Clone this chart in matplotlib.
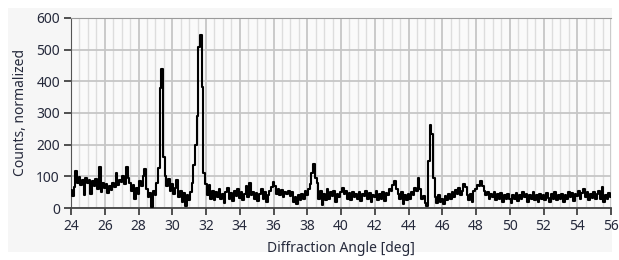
import numpy as np
import matplotlib.pyplot as plt
from matplotlib.ticker import MultipleLocator
from matplotlib.patches import Rectangle

# угол 2theta, шаг 0.1 градуса
angle_start = 24.0
angle_step = 0.1

# нормированные отсчёты (по 10 точек на градус)
counts_24 = [58, 38, 65, 118, 80, 98, 72, 90, 42, 95]
counts_25 = [78, 88, 45, 85, 68, 92, 60, 128, 50, 78]
counts_26 = [62, 75, 48, 70, 58, 80, 66, 112, 72, 88]
counts_27 = [82, 100, 75, 130, 95, 80, 55, 72, 30, 62]
counts_28 = [45, 85, 70, 102, 122, 60, 35, 48, 2, 55]
counts_29 = [40, 78, 125, 380, 440, 160, 100, 70, 92, 55]
counts_30 = [75, 45, 62, 90, 35, 55, 20, 48, 5, 40]
counts_31 = [25, 50, 80, 135, 200, 290, 507, 547, 382, 110]
counts_32 = [75, 40, 72, 30, 55, 25, 50, 35, 60, 28]
counts_33 = [45, 15, 50, 62, 30, 48, 22, 55, 38, 60]
counts_34 = [32, 50, 25, 45, 70, 35, 78, 40, 52, 30]
counts_35 = [48, 22, 45, 60, 30, 50, 18, 42, 55, 65]
counts_36 = [82, 70, 45, 60, 40, 58, 35, 52, 45, 55]
counts_37 = [38, 50, 20, 35, 12, 40, 25, 45, 30, 55]
counts_38 = [42, 60, 75, 110, 140, 95, 80, 30, 55, 10]
counts_39 = [45, 25, 60, 30, 52, 38, 55, 20, 45, 35]
counts_40 = [50, 62, 45, 55, 30, 48, 25, 52, 35, 45]
counts_41 = [30, 50, 22, 45, 38, 55, 28, 48, 20, 42]
counts_42 = [35, 55, 25, 45, 30, 52, 22, 48, 40, 60]
counts_43 = [55, 72, 85, 60, 45, 30, 50, 12, 40, 25]
counts_44 = [45, 30, 52, 40, 62, 55, 95, 60, 30, 38]
counts_45 = [15, 5, 150, 262, 235, 95, 35, 15, 40, 20]
counts_46 = [30, 12, 38, 25, 45, 30, 50, 35, 58, 45]
counts_47 = [62, 40, 55, 75, 65, 40, 25, 45, 20, 55]
counts_48 = [60, 72, 68, 85, 70, 55, 40, 50, 30, 45]
counts_49 = [35, 52, 25, 45, 30, 48, 20, 40, 28, 45]
counts_50 = [30, 15, 42, 28, 48, 22, 40, 30, 50, 35]
counts_51 = [45, 20, 40, 30, 52, 25, 42, 18, 45, 30]
counts_52 = [40, 25, 48, 32, 20, 45, 30, 50, 25, 40]
counts_53 = [28, 45, 20, 42, 30, 50, 35, 48, 22, 45]
counts_54 = [38, 55, 30, 48, 60, 35, 50, 25, 45, 32]
counts_55 = [52, 28, 45, 55, 30, 65, 20, 42, 30, 48]
counts_56 = [35]

counts = (counts_24 + counts_25 + counts_26 + counts_27 + counts_28 + counts_29 +
          counts_30 + counts_31 + counts_32 + counts_33 + counts_34 + counts_35 +
          counts_36 + counts_37 + counts_38 + counts_39 + counts_40 + counts_41 +
          counts_42 + counts_43 + counts_44 + counts_45 + counts_46 + counts_47 +
          counts_48 + counts_49 + counts_50 + counts_51 + counts_52 + counts_53 +
          counts_54 + counts_55 + counts_56)
counts = np.array(counts, dtype=float)
angles = angle_start + angle_step * np.arange(len(counts))

x_ticks = [24, 26, 28, 30, 32, 34, 36, 38, 40, 42, 44, 46, 48, 50, 52, 54, 56]
y_ticks = [0, 100, 200, 300, 400, 500, 600]

text_color = '#262a3c'
plt.rcParams['font.family'] = ['Noto Sans', 'DejaVu Sans']

fig = plt.figure(figsize=(6.19, 2.60), dpi=100, facecolor='white')
# серая подложка как у панели LabVIEW
fig.patches.append(Rectangle((8 / 619, 8 / 260), 604 / 619, 244 / 260,
                             transform=fig.transFigure, facecolor='#f6f6f6',
                             edgecolor='none', zorder=-10))
ax = fig.add_axes([71 / 619, 52 / 260, 540 / 619, 190 / 260])
ax.set_facecolor('#fafafa')

# ступеньками, как рисует прибор
ax.plot(angles, counts, color='black', linewidth=1.5, drawstyle='steps-mid', zorder=3)

ax.set_xlim(24, 56)
ax.set_ylim(0, 600)
ax.set_xticks(x_ticks)
ax.set_yticks(y_ticks)
ax.xaxis.set_minor_locator(MultipleLocator(0.5))

ax.grid(which='major', color='#c6c6c6', linewidth=1.3, zorder=0)
ax.grid(which='minor', axis='x', color='#dddddd', linewidth=1.0, zorder=0)
ax.set_axisbelow(True)

ax.spines['right'].set_visible(False)
ax.spines['top'].set_color('#9a9a9a')
ax.spines['left'].set_color('#555555')
ax.spines['bottom'].set_color('#444444')
ax.spines['bottom'].set_linewidth(1.3)

ax.tick_params(which='major', direction='out', length=5, width=1.2,
               color='#333333', labelsize=10, labelcolor=text_color, pad=3)
ax.tick_params(which='minor', length=0)

ax.set_xlabel('Diffraction Angle [deg]', fontsize=10, color=text_color, labelpad=5)
ax.set_ylabel('Counts, normalized', fontsize=10, color=text_color, labelpad=6)

fig.savefig('out.png', dpi=100, facecolor=fig.get_facecolor())
